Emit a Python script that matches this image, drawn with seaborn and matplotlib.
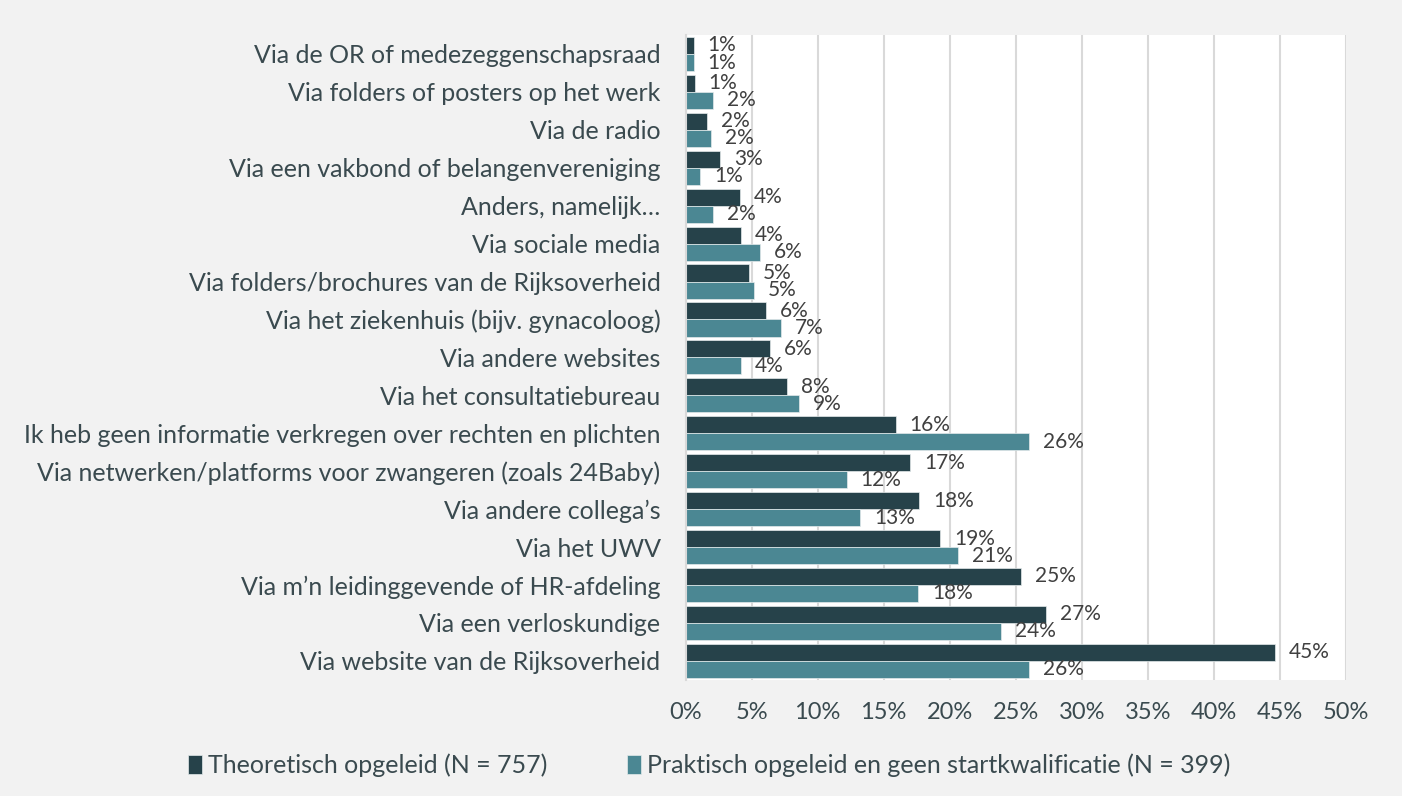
import seaborn as sns
import matplotlib.pyplot as plt
import pandas as pd
from matplotlib.ticker import PercentFormatter

##-----Data-----##
categories = [
    "Via de OR of medezeggenschapsraad",
    "Via folders of posters op het werk",
    "Via de radio",
    "Via een vakbond of belangenvereniging",
    "Anders, namelijk…",
    "Via sociale media",
    "Via folders/brochures van de Rijksoverheid",
    "Via het ziekenhuis (bijv. gynacoloog)",
    "Via andere websites",
    "Via het consultatiebureau",
    "Ik heb geen informatie verkregen over rechten en plichten",
    "Via netwerken/platforms voor zwangeren (zoals 24Baby)",
    "Via andere collega’s",
    "Via het UWV",
    "Via m’n leidinggevende of HR-afdeling",
    "Via een verloskundige",
    "Via website van de Rijksoverheid",
]
theoretisch = [0.6, 0.7, 1.6, 2.6, 4.1, 4.2, 4.8, 6.1, 6.4, 7.7, 15.9, 17.0, 17.7, 19.3, 25.4, 27.3, 44.6]
praktisch = [0.6, 2.1, 1.9, 1.1, 2.1, 5.6, 5.2, 7.2, 4.2, 8.6, 26.0, 12.2, 13.2, 20.6, 17.6, 23.9, 26.0]
groups = ["Theoretisch opgeleid (N = 757)",
          "Praktisch opgeleid en geen startkwalificatie (N = 399)"]
colors = ["#26424a", "#4b8793"]

df = pd.DataFrame({
    "categorie": categories * 2,
    "waarde": theoretisch + praktisch,
    "groep": [groups[0]] * len(categories) + [groups[1]] * len(categories),
})

##-----Plot-----##
sns.set_style("white")
plt.rcParams['font.family'] = ['Lato', 'DejaVu Sans']
txt = "#3a4a4f"

fig = plt.figure(figsize=(14.02, 7.96), dpi=100, facecolor="#f2f2f2")
ax = fig.add_axes([0.489, 0.146, 0.471, 0.81])
ax.set_facecolor("white")

sns.barplot(data=df, y="categorie", x="waarde", hue="groep", order=categories,
            hue_order=groups, palette=colors, width=0.9, orient="h",
            saturation=1, edgecolor="#e4eaeb", linewidth=0.5, ax=ax)

for cont in ax.containers:
    ax.bar_label(cont, labels=[f"{v:.0f}%" for v in cont.datavalues],
                 padding=10, fontsize=15, color="#404040")

ax.set_xlim(0, 50)
ax.set_xticks(range(0, 51, 5))
ax.xaxis.set_major_formatter(PercentFormatter(decimals=0))
ax.grid(axis="x", color="#d9d9d9", linewidth=1.5)
ax.set_axisbelow(True)
for s in ["top", "right", "bottom"]:
    ax.spines[s].set_visible(False)
ax.spines["left"].set_color("#d9d9d9")
ax.spines["left"].set_linewidth(1.5)
ax.tick_params(axis="y", length=0, labelsize=18, colors=txt, pad=18)
ax.tick_params(axis="x", length=0, labelsize=17, colors=txt, pad=16)
ax.set_xlabel("")
ax.set_ylabel("")

leg = ax.legend(loc="upper center", bbox_to_anchor=(0.036, -0.08), ncol=2,
                frameon=False, fontsize=18, handlelength=0.55, handleheight=0.8,
                handletextpad=0.25, columnspacing=3.2)
for t in leg.get_texts():
    t.set_color(txt)

fig.savefig("out.png", dpi=100, facecolor=fig.get_facecolor())
